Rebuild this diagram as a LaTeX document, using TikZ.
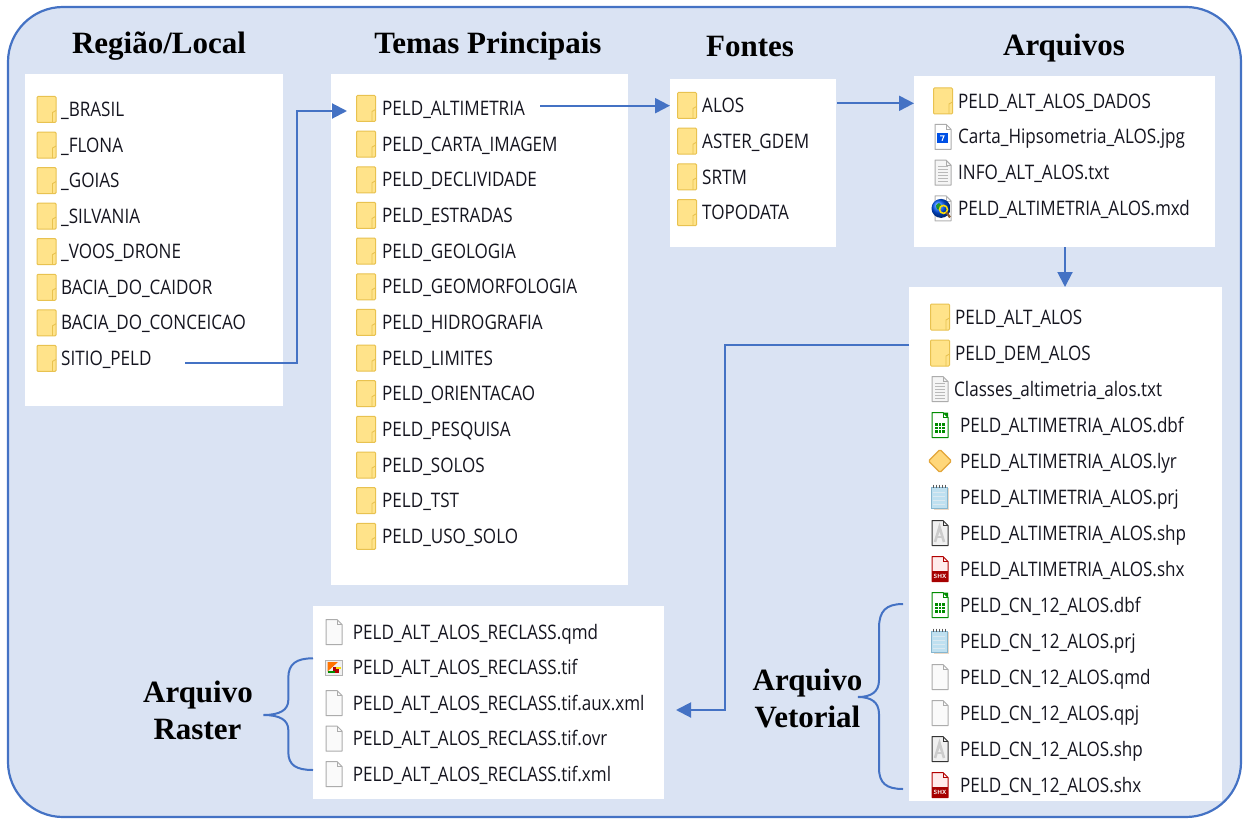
\documentclass[tikz,border=0pt]{standalone}
\usepackage{fontspec}
\setmainfont{Liberation Serif}
\newfontfamily\itemfont[FakeStretch=0.853]{Open Sans}
\usetikzlibrary{arrows.meta}
\definecolor{bgblue}{HTML}{DAE3F3}
\definecolor{lineblue}{HTML}{4472C4}
\definecolor{foldf}{HTML}{FFE38A}
\definecolor{foldb}{HTML}{E8C250}
\definecolor{lyrf}{HTML}{FFD77A}
\definecolor{lyrb}{HTML}{E3A63A}
\definecolor{prjf}{HTML}{BFE0F0}
\definecolor{prjb}{HTML}{86B6CF}
\definecolor{txtc}{HTML}{15151F}
\newcommand\mydoc[2]{%
  \draw[fill=#1, draw=#2, line width=1pt, line join=round] (-8,-12.5) -- (3,-12.5) -- (8,-7.5) -- (8,12.5) -- (-8,12.5) -- cycle;
  \draw[draw=#2, line width=0.8pt] (3,-12.5) -- (3,-7.5) -- (8,-7.5);}
\tikzset{
  panel/.style={fill=white, draw=none, inner sep=0pt, outer sep=0pt, anchor=north west},
  item/.style={anchor=west, inner sep=0pt, text height=14.3pt, text depth=0pt,
    font=\itemfont\fontsize{20}{23}\selectfont, text=txtc},
  title/.style={anchor=base, inner sep=0pt, font=\bfseries\fontsize{31}{36}\selectfont},
  conn/.style={draw=lineblue, line width=2pt, -{Triangle[length=15pt,width=15pt]}},
  brace/.style={draw=lineblue, line width=2pt},
  folder/.pic={
    \draw[draw=foldb, fill=foldf, line width=1pt, rounded corners=1pt] (-9.5,-13) rectangle (9.5,13);
    \draw[draw=foldb, line width=0.9pt] (6,13) -- (6,3) -- (9.5,1);
  },
  blankdoc/.pic={\mydoc{gray!4}{gray!65}},
  txtdoc/.pic={\mydoc{gray!8}{gray!65}
    \foreach \yy in {-6,-3,0,3,6,9} \draw[gray!55, line width=1pt] (-5,\yy) -- (5,\yy);},
  jpgdoc/.pic={\mydoc{white}{gray!65}
    \fill[blue!65!cyan!90!black] (-6,-4) rectangle (5,6);
    \draw[white, line width=1pt] (-3,-1) -- (1,-1) -- (-1,4);},
  mxd/.pic={\mydoc{white}{gray!60}
    \shade[ball color=blue!65!cyan] (-2,0) circle (9.5);
    \fill[green!55!black, opacity=0.8] (-7,-3) .. controls (-4,-8) and (-1,-4) .. (-2,0) .. controls (-4,3) and (-7,1) .. cycle;
    \draw[yellow!80!orange, line width=1.6pt] (0.5,1) circle (4);
    \draw[brown!70!black, line width=2.2pt] (3.5,4) -- (7,9);},
  dbf/.pic={\mydoc{white}{green!55!black}
    \fill[green!55!black] (3,-12.5) -- (8,-12.5) -- (8,-7.5) -- cycle;
    \fill[green!55!black] (-5,-2) rectangle (5,8);
    \draw[white, line width=0.8pt] (-5,1.3) -- (5,1.3) (-5,4.6) -- (5,4.6) (-1.7,-2) -- (-1.7,8) (1.7,-2) -- (1.7,8);},
  lyr/.pic={\draw[fill=lyrf, draw=lyrb, line width=1.2pt, rounded corners=1.5pt] (0,-11.5) -- (11.5,0) -- (0,11.5) -- (-11.5,0) -- cycle;},
  prj/.pic={
    \fill[brown!30] (-6,-9) rectangle (9,13);
    \draw[fill=prjf, draw=prjb, line width=0.8pt] (-9,-10) rectangle (7,11.5);
    \foreach \yy in {-5,-1,3,7} \draw[white!70!prjb, line width=1pt] (-7,\yy) -- (5,\yy);
    \foreach \xx in {-7,-4,-1,2,5} \draw[gray!70!black, line width=1pt] (\xx,-12.5) -- (\xx,-9);},
  shp/.pic={\mydoc{gray!12}{black!80}
    \draw[gray!40, line width=2.6pt] (-5,9) -- (-0.5,-6) -- (4,9);
    \draw[gray!40, line width=2pt] (-3.3,4) -- (2.3,4);},
  shx/.pic={\mydoc{red!8}{red!70!black}
    \fill[red!65!black] (-8,1.5) rectangle (8,12.5);
    \node[inner sep=0pt, text=white, font=\sffamily\bfseries\fontsize{6}{6}\selectfont] (-t) at (0,7.2) {SHX};},
  tif/.pic={
    \draw[fill=gray!12, draw=gray!60, line width=0.8pt] (-8.5,-7.5) rectangle (8.5,7.5);
    \fill[orange!90!red] (-6.5,-5.5) -- (4,-5.5) -- (-6.5,4) -- cycle;
    \fill[red!70!black] (-1,-1) rectangle (5,5.5);
    \fill[green!55!black] (-6.5,3.5) rectangle (1,5.5);
    \fill[yellow!80!orange] (1.5,-1) rectangle (6.5,1.5);},
}
\begin{document}
\begin{tikzpicture}[x=1pt,y=-1pt]
\useasboundingbox (0,0) rectangle (1249,821);
\draw[line width=2.2pt, draw=lineblue, fill=bgblue, rounded corners=55pt] (8,7) rectangle (1241,817);

% titles
\node[title] (h1) at (159,54) {Região/Local};
\node[title] (h2) at (488,53.5) {Temas Principais};
\node[title] (h3) at (750,57) {Fontes};
\node[title] (h4) at (1064,56) {Arquivos};

% panels
\node[panel, minimum width=258pt, minimum height=332pt] (p1) at (25,74) {};
\node[panel, minimum width=297pt, minimum height=511pt] (p2) at (331,74) {};
\node[panel, minimum width=166pt, minimum height=168pt] (p3) at (670,79) {};
\node[panel, minimum width=301pt, minimum height=171pt] (p4) at (914,76) {};
\node[panel, minimum width=313pt, minimum height=514pt] (p5) at (909,287) {};
\node[panel, minimum width=351pt, minimum height=193pt] (p6) at (313,606) {};

% panel 1
\foreach \t [count=\i] in {\_BRASIL,\_FLONA,\_GOIAS,\_SILVANIA,\_VOOS\_DRONE,BACIA\_DO\_CAIDOR,BACIA\_DO\_CONCEICAO,SITIO\_PELD}{
  \pgfmathsetmacro\yy{109.5+35.55*(\i-1)}
  \pic (fa\i) at (46.5,\yy) {folder};
  \node[item] (a\i) at (61,\yy) {\t};
}
% panel 2
\foreach \t [count=\i] in {PELD\_ALTIMETRIA,PELD\_CARTA\_IMAGEM,PELD\_DECLIVIDADE,PELD\_ESTRADAS,PELD\_GEOLOGIA,PELD\_GEOMORFOLOGIA,PELD\_HIDROGRAFIA,PELD\_LIMITES,PELD\_ORIENTACAO,PELD\_PESQUISA,PELD\_SOLOS,PELD\_TST,PELD\_USO\_SOLO}{
  \pgfmathsetmacro\yy{108.5+35.65*(\i-1)}
  \pic (fb\i) at (366,\yy) {folder};
  \node[item] (b\i) at (382,\yy) {\t};
}
% panel 3
\foreach \t [count=\i] in {ALOS,ASTER\_GDEM,SRTM,TOPODATA}{
  \pgfmathsetmacro\yy{105.5+35.7*(\i-1)}
  \pic (fc\i) at (687,\yy) {folder};
  \node[item] (c\i) at (702,\yy) {\t};
}
% panel 4
\foreach \ic/\t [count=\i] in {folder/PELD\_ALT\_ALOS\_DADOS,jpgdoc/Carta\_Hipsometria\_ALOS.jpg,txtdoc/INFO\_ALT\_ALOS.txt,mxd/PELD\_ALTIMETRIA\_ALOS.mxd}{
  \pgfmathsetmacro\yy{101+35.8*(\i-1)}
  \pic (fd\i) at (943,\yy) {\ic};
  \node[item] (d\i) at (958,\yy) {\t};
}
% panel 5
\foreach \ic/\t/\tx [count=\i] in {folder/PELD\_ALT\_ALOS/955,folder/PELD\_DEM\_ALOS/955,txtdoc/Classes\_altimetria\_alos.txt/954,
  dbf/PELD\_ALTIMETRIA\_ALOS.dbf/960,lyr/PELD\_ALTIMETRIA\_ALOS.lyr/960,prj/PELD\_ALTIMETRIA\_ALOS.prj/960,
  shp/PELD\_ALTIMETRIA\_ALOS.shp/960,shx/PELD\_ALTIMETRIA\_ALOS.shx/960,dbf/PELD\_CN\_12\_ALOS.dbf/960,
  prj/PELD\_CN\_12\_ALOS.prj/960,blankdoc/PELD\_CN\_12\_ALOS.qmd/960,blankdoc/PELD\_CN\_12\_ALOS.qpj/960,
  shp/PELD\_CN\_12\_ALOS.shp/960,shx/PELD\_CN\_12\_ALOS.shx/960}{
  \pgfmathsetmacro\yy{317+36*(\i-1)}
  \pic (fe\i) at (940,\yy) {\ic};
  \node[item] (e\i) at (\tx,\yy) {\t};
}
% panel 6
\foreach \ic/\t [count=\i] in {blankdoc/PELD\_ALT\_ALOS\_RECLASS.qmd,tif/PELD\_ALT\_ALOS\_RECLASS.tif,blankdoc/PELD\_ALT\_ALOS\_RECLASS.tif.aux.xml,blankdoc/PELD\_ALT\_ALOS\_RECLASS.tif.ovr,blankdoc/PELD\_ALT\_ALOS\_RECLASS.tif.xml}{
  \pgfmathsetmacro\yy{632+35.5*(\i-1)}
  \pic (ff\i) at (334,\yy) {\ic};
  \node[item] (f\i) at (352.7,\yy) {\t};
}

% labels
\node[title] (lr1) at (198,702.7) {Arquivo};
\node[title] (lr2) at (197.5,739.3) {Raster};
\node[title] (lv1) at (807.5,690) {Arquivo};
\node[title] (lv2) at (807.5,727) {Vetorial};

% braces
\draw[brace] (313,658.3) .. controls (296,658.3) and (288.3,664) .. (288.3,678) -- (288.3,700)
  .. controls (288.3,710) and (280,715) .. (263.3,715)
  .. controls (280,715) and (288.3,720) .. (288.3,730) -- (288.3,752)
  .. controls (288.3,765) and (296,770) .. (313,770);
\draw[brace] (903,604) .. controls (886,604) and (879,611) .. (879,628) -- (879,680)
  .. controls (879,692) and (871,697) .. (858,697)
  .. controls (871,697) and (879,702) .. (879,714) -- (879,768)
  .. controls (879,783) and (886,789) .. (903,789);

% connectors
\coordinate (k1a) at (185,363);
\coordinate (k1b) at (347,111);
\draw[conn] (k1a) -| ([xshift=-50pt]k1b) -- (k1b);
\coordinate (k2a) at (540,105.7);
\draw[conn] (k2a) -- (k2a -| p3.west);
\coordinate (k3a) at (837,103.3);
\draw[conn] (k3a) -- (k3a -| p4.west);
\coordinate (k4a) at (1065,247);
\draw[conn] (k4a) -- (k4a |- p5.north);
\coordinate (k5a) at (909,345);
\coordinate (k5b) at (676,710);
\draw[conn] (k5a) -| ([xshift=49pt]k5b) -- (k5b);
\end{tikzpicture}
\end{document}
